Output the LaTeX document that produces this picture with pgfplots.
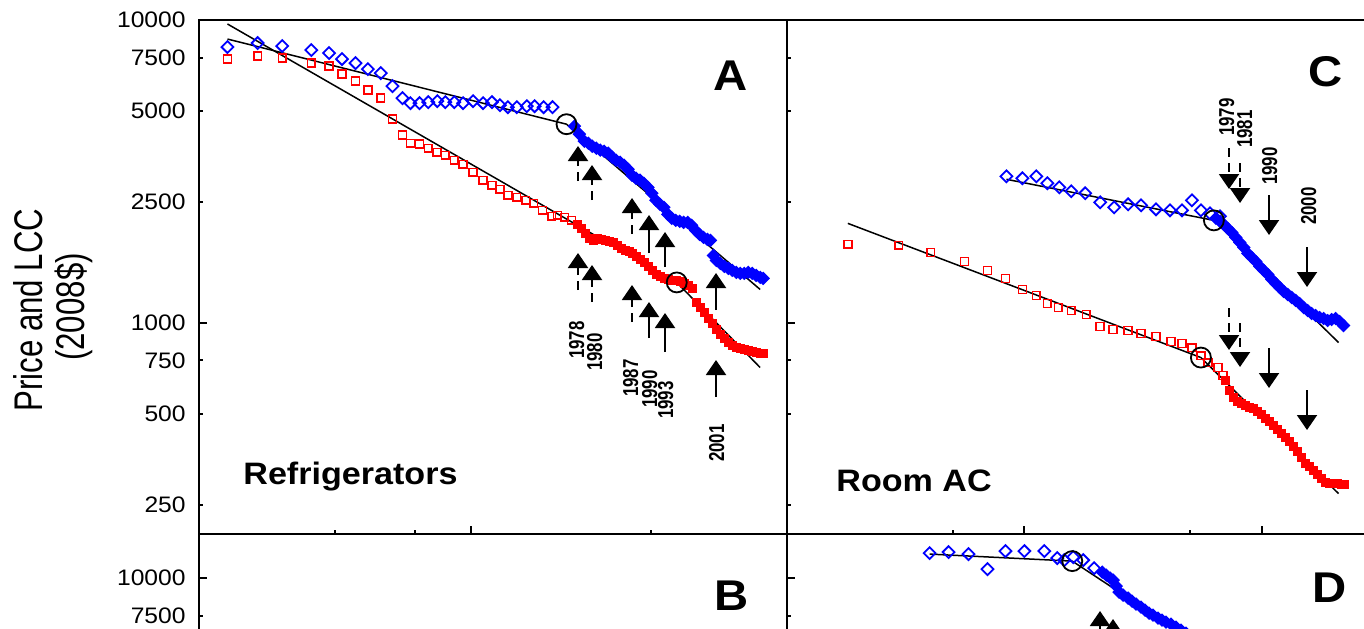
\documentclass[border=0pt]{standalone}
\usepackage{fontspec}
\setmainfont{Liberation Sans}
\newfontfamily\hfont[FakeStretch=1.1]{Liberation Sans}
\newfontfamily\rfont[FakeStretch=0.78]{Liberation Sans}
\usepackage{pgfplots}
\pgfplotsset{compat=1.18}
\usetikzlibrary{arrows.meta}

\pgfplotsset{
  mypanel/.style={
    scale only axis, width=294pt, height=257pt,
    axis line style={line width=1.1pt},
    every tick/.style={black, line width=1pt},
    tick align=inside, tick pos=left,
    major tick length=2pt,
    xminorticks=false, yminorticks=false,
    extra y tick labels={}, extra x tick labels={},
    extra y tick style={major tick length=4pt, grid=none},
    extra x tick style={major tick length=4pt, grid=none},
    xticklabels={},
    yticklabel style={font=\hfont\fontsize{11.2}{13}\selectfont, inner sep=0pt, xshift=-6.5pt},
  },
  opendia/.style={only marks, mark=square, mark size=2.1pt, draw=blue,
    mark options={rotate=45, line width=0.9pt, fill=none}},
  filldia/.style={only marks, mark=square*, mark size=2.1pt, blue,
    mark options={rotate=45, line width=0.6pt}},
  opensq/.style={only marks, mark=square, mark size=1.95pt, draw=red,
    mark options={line width=0.8pt, fill=none}},
  fillsq/.style={only marks, mark=square*, mark size=1.95pt, red,
    mark options={line width=0.6pt}},
  fitline/.style={black, line width=0.75pt, no marks},
  kink/.style={only marks, mark=o, mark size=5pt, black, mark options={line width=0.9pt}},
}

\begin{document}
\begin{tikzpicture}
\begin{scope}
\clip (0,0) rectangle (682pt,314pt);

% ---------- A : refrigerators ----------
\begin{loglogaxis}[mypanel, at={(99.5pt,304pt)}, anchor=north west,
  xmin=25, xmax=500, ymin=200, ymax=10000,
  xtick={50,75,250}, extra x ticks={100},
  ytick={250,500,750,1000,2500,5000,7500,10000},
  yticklabels={250,500,750,1000,2500,5000,7500,10000},
  extra y ticks={1000,10000}]
\addplot[opendia] coordinates {
 (28.9,8140) (33.7,8390) (38.2,8202) (44.3,7954) (48.5,7776) (51.8,7429) (55.5,7205)
 (59.1,6880) (63.1,6675) (67.0,6046) (70.5,5516) (73.4,5310) (76.9,5310) (80.4,5351)
 (84.2,5392) (87.7,5351) (91.8,5351) (96.0,5310) (101.0,5392) (106.3,5310) (111.2,5351)
 (115.8,5229) (120.6,5150) (126.2,5150) (132.8,5189) (138.2,5189) (144.7,5150) (151.4,5150)};
\addplot[filldia] coordinates {
 (169.3,4456) (173.6,4194) (178.0,3975) (181.7,3915) (185.4,3826) (189.2,3769) (193.1,3712)
 (197.0,3684) (201.1,3628) (205.2,3519) (209.4,3439) (213.7,3387) (218.1,3311) (222.5,3209)
 (227.0,3067) (231.7,2998) (236.4,2953) (241.2,2887) (246.2,2799) (251.2,2675) (256.3,2535)
 (261.6,2459) (266.9,2403) (272.4,2279) (278.0,2211) (283.6,2176) (289.4,2160) (295.3,2143)
 (301.4,2143) (307.5,2095) (313.8,2015) (320.2,1955) (326.7,1911) (333.4,1882) (338.5,1868)
 (343.7,1667) (349.0,1604) (356.1,1568) (363.4,1533) (370.9,1510) (378.4,1487) (386.2,1464)
 (394.1,1453) (402.1,1453) (410.4,1464) (418.8,1453) (427.3,1431) (436.1,1410) (442.8,1399)};
\addplot[opensq] coordinates {
 (28.9,7429) (33.7,7600) (38.2,7485) (44.3,7205) (48.5,7043) (51.8,6624) (55.5,6281)
 (59.1,5864) (63.1,5516) (67.0,4700) (70.5,4161) (73.4,3915) (76.9,3886) (80.4,3769)
 (84.0,3656) (87.7,3573) (91.8,3439) (96.0,3336) (101.0,3138) (106.3,2953) (111.2,2842)
 (115.8,2757) (120.6,2634) (126.2,2594) (132.1,2535) (137.5,2478) (143.9,2349) (150.7,2244)
 (155.3,2261) (160.9,2227) (166.7,2176)};
\addplot[fillsq] coordinates {
 (171.8,2110) (175.4,2047) (178.9,1970) (182.6,1896) (186.4,1868) (190.1,1896) (194.1,1882)
 (198.0,1868) (202.1,1854) (206.2,1840) (210.4,1799) (214.7,1758) (219.1,1731) (223.6,1718)
 (228.1,1692) (232.8,1655) (237.6,1617) (242.4,1581) (247.4,1533) (252.5,1487) (257.6,1442)
 (262.9,1420) (268.3,1399) (273.8,1388) (279.4,1378) (285.1,1378) (290.9,1368) (296.9,1346)
 (302.9,1327) (309.1,1296) (315.4,1165) (321.9,1121) (328.4,1079) (335.1,1031) (342.0,992)
 (349.0,948) (356.1,913) (363.4,885) (370.9,859) (378.4,839) (386.2,826) (394.1,820)
 (402.1,814) (410.4,808) (418.8,802) (427.3,796) (436.1,790) (442.8,790)};
\addplot[fitline] coordinates {(28.9,8651) (162.6,4524) (436.1,1286)};
\addplot[fitline] coordinates {(28.9,9700) (285.1,1357) (436.1,710)};
\addplot[kink] coordinates {(162.6,4524) (285.1,1357)};
\end{loglogaxis}

% ---------- C : room AC ----------
\begin{loglogaxis}[mypanel, at={(393.5pt,304pt)}, anchor=north west,
  xmin=1, xmax=300, ymin=200, ymax=10000,
  xtick={5,50}, extra x ticks={10,100},
  ytick={250,500,750,1000,2500,5000,7500,10000}, yticklabels={},
  extra y ticks={1000,10000}]
\addplot[opendia] coordinates {
 (8.40,3043) (9.81,2998) (11.23,3043) (12.49,2887) (14.03,2799) (15.76,2716) (18.04,2675)
 (20.86,2497) (23.88,2403) (27.35,2459) (31.01,2440) (35.85,2367) (41.06,2349) (46.12,2349)
 (50.81,2535) (55.42,2349) (60.47,2296) (66.63,2244)};
\addplot[filldia] coordinates {
 (64.08,2211) (66.63,2160) (69.23,2110) (71.96,2047) (74.80,1985) (77.76,1911) (80.83,1840)
 (84.02,1771) (87.34,1692) (90.78,1641) (94.37,1592) (98.08,1533) (101.95,1487) (106.0,1442)
 (110.2,1388) (114.5,1346) (119.0,1306) (123.7,1267) (128.6,1238) (133.7,1210) (139.0,1183)
 (144.4,1156) (150.2,1121) (156.1,1096) (162.3,1071) (168.7,1055) (175.3,1039) (182.2,1031)
 (189.4,1015) (196.9,1023) (204.6,1031) (212.7,1008) (221.1,977)};
\addplot[opensq] coordinates {
 (1.804,1813) (2.955,1799) (4.027,1705) (5.596,1592) (6.991,1487) (8.324,1399) (9.81,1286)
 (11.23,1229) (12.49,1156) (13.90,1121) (15.76,1096) (18.22,1063) (20.86,970) (23.65,948)
 (27.35,941) (31.01,920) (35.85,899) (41.46,865) (46.12,852) (50.81,826) (55.42,777)
 (59.31,737) (65.35,710) (68.57,668)};
\addplot[fillsq] coordinates {
 (70.57,643) (73.36,596) (76.26,564) (79.27,547) (82.41,539) (85.66,531) (89.05,523)
 (92.56,519) (96.21,508) (100.0,496) (103.9,481) (108.0,470) (112.3,456) (116.7,442)
 (121.3,429) (126.1,416) (131.1,404) (136.3,389) (141.7,374) (147.3,357) (153.1,341)
 (159.1,334) (165.4,324) (171.9,314) (178.7,304) (185.8,297) (193.1,293) (200.7,293)
 (208.6,293) (216.9,291) (223.2,291)};
\addplot[fitline] coordinates {(8.40,2975) (62.85,2176) (210.6,859)};
\addplot[fitline] coordinates {(1.804,2127) (55.42,766) (210.6,272)};
\addplot[kink] coordinates {(62.85,2176) (55.42,766)};
\end{loglogaxis}

% ---------- B ----------
\begin{loglogaxis}[mypanel, at={(99.5pt,47pt)}, anchor=north west,
  xmin=25, xmax=500, ymin=278, ymax=14000,
  xtick={50,75,250}, extra x ticks={100},
  ytick={500,750,1000,2500,5000,7500,10000},
  yticklabels={500,750,1000,2500,5000,7500,10000},
  extra y ticks={1000,10000}]
\addplot[draw=none, no marks] coordinates {(30,300) (400,13000)};
\end{loglogaxis}

% ---------- D ----------
\begin{loglogaxis}[mypanel, at={(393.5pt,47pt)}, anchor=north west,
  xmin=1, xmax=300, ymin=278, ymax=14000,
  xtick={5,50}, extra x ticks={10,100},
  ytick={500,750,1000,2500,5000,7500,10000}, yticklabels={},
  extra y ticks={1000,10000}]
\addplot[opendia] coordinates {
 (3.989,12100) (4.794,12195) (5.817,12010) (6.991,10710) (8.324,12290) (10.0,12290)
 (12.13,12290) (13.76,11650) (14.73,11470) (16.07,11740) (17.69,11470) (19.68,10790)};
\addplot[filldia] coordinates {
 (21.27,10470) (22.11,10230) (22.98,10000) (23.65,9850) (24.36,9408) (25.07,8987) (26.06,8783)
 (27.35,8586) (28.43,8390) (29.55,8202) (31.01,8017) (32.24,7834) (33.51,7656) (34.83,7541)
 (36.56,7370) (38.01,7259) (39.51,7150) (41.46,7043) (43.52,6880) (45.67,6726) (47.94,6574)};
\addplot[fitline] coordinates {(3.989,12010) (15.91,11385) (54.89,5999)};
\addplot[kink] coordinates {(15.91,11385)};
\end{loglogaxis}

% ---------- annotations (pixel grid of the figure) ----------
\begin{scope}[x=0.5pt, y=-0.5pt, shift={(0pt,314pt)}]
\tikzset{arr/.style={line width=1pt, -{Triangle[width=10pt,length=7.5pt]}},
         darr/.style={arr, dash pattern=on 4.5pt off 3pt},
         yr/.style={rotate=90, anchor=base, inner sep=0pt,
           font=\rfont\bfseries\fontsize{10.8}{12}\selectfont}}
% A, upper row (price)
\draw[darr] (578,181) -- (578,146);
\draw[darr] (592,200) -- (592,165);
\draw[darr] (632,234) -- (632,198);
\draw[arr]  (649,253) -- (649,215);
\draw[arr]  (665,267) -- (665,232);
\draw[arr]  (716,310) -- (716,273);
% A, lower row (LCC)
\draw[darr] (578,290) -- (578,253);
\draw[darr] (592,302) -- (592,265);
\draw[darr] (632,322) -- (632,285);
\draw[arr]  (649,338) -- (649,302);
\draw[arr]  (665,352) -- (665,313);
\draw[arr]  (716,397) -- (716,360);
\node[yr] at (584,340) {1978};
\node[yr] at (602,352) {1980};
\node[yr] at (638,378) {1987};
\node[yr] at (657,389) {1990};
\node[yr] at (673,400) {1993};
\node[yr] at (724,443) {2001};
% C
\draw[darr] (1229,148) -- (1229,189);
\draw[darr] (1240,163) -- (1240,203);
\draw[arr]  (1269,195) -- (1269,235);
\draw[arr]  (1307,247) -- (1307,287);
\draw[darr] (1229,308) -- (1229,350);
\draw[darr] (1240,323) -- (1240,367);
\draw[arr]  (1269,348) -- (1269,388);
\draw[arr]  (1307,390) -- (1307,430);
\node[yr] at (1234,117) {1979};
\node[yr] at (1252,129) {1981};
\node[yr] at (1277,166) {1990};
\node[yr] at (1316,206) {2000};
% D
\draw[arr] (1100,660) -- (1100,611);
\draw[arr] (1113,665) -- (1113,619);
% panel letters and names
\tikzset{big/.style={anchor=base, inner sep=0pt, font=\hfont\bfseries\fontsize{21.5}{24}\selectfont}}
\node[big] at (731,90) {A};
\node[big] at (1326,87) {C};
\node[big] at (732,610) {B};
\node[big] at (1330,602) {D};
\node[anchor=base west, inner sep=0pt, font=\hfont\bfseries\fontsize{15.5}{18}\selectfont] at (243,484) {Refrigerators};
\node[anchor=base west, inner sep=0pt, font=\hfont\bfseries\fontsize{15.5}{18}\selectfont] at (836,491) {Room AC};
% y label
\node[rotate=90, anchor=base, inner sep=0pt, font=\rfont\fontsize{20}{24}\selectfont] at (42,310) {Price and LCC};
\node[rotate=90, anchor=base, inner sep=0pt, font=\rfont\fontsize{20}{24}\selectfont] at (84,307) {(2008\$)};
\end{scope}
\end{scope}
\pgfresetboundingbox
\useasboundingbox (0,0) rectangle (682pt,314pt);
\end{tikzpicture}
\end{document}
